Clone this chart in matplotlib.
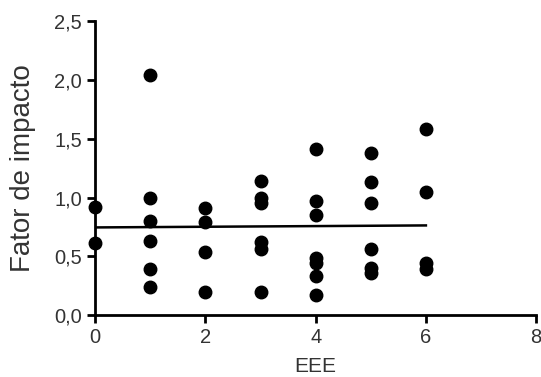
import matplotlib
matplotlib.use("Agg")
import matplotlib.pyplot as plt
import numpy as np

# valores
eee = [0, 0,
       1, 1, 1, 1, 1, 1,
       2, 2, 2, 2,
       3, 3, 3, 3, 3, 3,
       4, 4, 4, 4, 4, 4, 4,
       5, 5, 5, 5, 5, 5,
       6, 6, 6, 6]
fator = [0.92, 0.61,
         2.04, 1.00, 0.80, 0.63, 0.39, 0.24,
         0.91, 0.79, 0.54, 0.195,
         1.14, 1.00, 0.95, 0.62, 0.565, 0.195,
         1.41, 0.97, 0.85, 0.49, 0.44, 0.33, 0.17,
         1.38, 1.13, 0.95, 0.565, 0.40, 0.36,
         1.58, 1.05, 0.44, 0.39]

# reta de regressão
reta_x = [0, 6]
reta_y = [0.746, 0.763]

plt.rcParams['font.family'] = ['Liberation Sans', 'DejaVu Sans']

fig = plt.figure(figsize=(5.41, 3.77), dpi=100)
ax = fig.add_axes([0.176, 0.164, 0.815, 0.78])

ax.plot(eee, fator, 'o', color='black', markersize=9, clip_on=False, zorder=3)
ax.plot(reta_x, reta_y, color='black', linewidth=1.8)

ax.set_xlim(0, 8)
ax.set_ylim(0, 2.5)
ax.set_xticks([0, 2, 4, 6, 8])
ax.set_yticks([0, 0.5, 1.0, 1.5, 2.0, 2.5])
ax.set_yticklabels([f"{v:.1f}".replace('.', ',') for v in [0, 0.5, 1.0, 1.5, 2.0, 2.5]])

for s in ['top', 'right']:
    ax.spines[s].set_visible(False)
for s in ['left', 'bottom']:
    ax.spines[s].set_linewidth(2)
ax.tick_params(width=2, length=6, labelsize=14.5, colors='black', labelcolor='#333333')

ax.set_xlabel("EEE", fontsize=15, color='#333333', labelpad=7)
ax.set_ylabel("Fator de impacto", fontsize=20, color='#333333', labelpad=13)

fig.savefig("out.png", dpi=100)
